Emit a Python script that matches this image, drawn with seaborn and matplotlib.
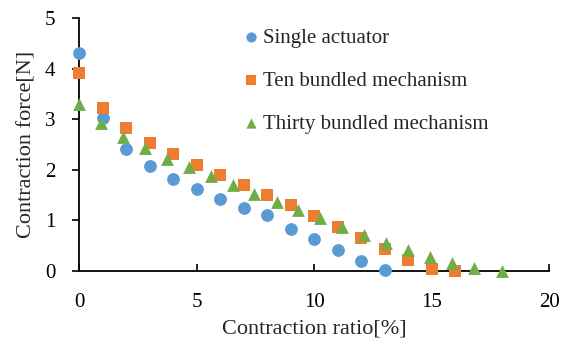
import matplotlib
matplotlib.use("Agg")
import matplotlib.pyplot as plt
import seaborn as sns
import pandas as pd

# contraction ratio [%] / contraction force [N]
single_x = [0, 1, 2, 3, 4, 5, 6, 7, 8, 9, 10, 11, 12, 13]
single_y = [4.32, 3.03, 2.41, 2.07, 1.81, 1.62, 1.43, 1.24, 1.10, 0.83, 0.64, 0.42, 0.20, 0.02]

ten_x = [0, 1, 2, 3, 4, 5, 6, 7, 8, 9, 10, 11, 12, 13, 14, 15, 16]
ten_y = [3.92, 3.23, 2.82, 2.53, 2.31, 2.09, 1.89, 1.70, 1.50, 1.30, 1.08, 0.87, 0.66, 0.44, 0.21, 0.03, 0.0]

thirty_x = [0, 0.93, 1.86, 2.8, 3.73, 4.66, 5.6, 6.53, 7.46, 8.4, 9.33, 10.26,
            11.2, 12.13, 13.06, 14.0, 14.93, 15.86, 16.8, 18.0]
thirty_y = [3.31, 2.93, 2.65, 2.43, 2.22, 2.05, 1.87, 1.70, 1.53, 1.37, 1.20, 1.04,
            0.87, 0.72, 0.55, 0.41, 0.27, 0.15, 0.05, 0.0]

labels = ['Single actuator', 'Ten bundled mechanism', 'Thirty bundled mechanism']
colors = ['#5B9BD5', '#ED7D31', '#70AD47']
markers = ['o', 's', '^']

sns.set_style("white")
plt.rcParams['font.family'] = ['Liberation Serif', 'DejaVu Serif']

fig = plt.figure(figsize=(5.65, 3.45), dpi=100)
ax = fig.add_axes([0.140, 0.2145, 0.832, 0.733])

series = [(single_x, single_y), (ten_x, ten_y), (thirty_x, thirty_y)]
for (xs, ys), lab, col, mk in zip(series, labels, colors, markers):
    df = pd.DataFrame({'x': xs, 'y': ys})
    sns.scatterplot(data=df, x='x', y='y', ax=ax, color=col, marker=mk,
                    s=85, linewidth=0, label=lab, clip_on=False, zorder=3)

ax.set_xlim(0, 20)
ax.set_ylim(0, 5)
ax.set_xticks([0, 5, 10, 15, 20])
ax.set_yticks([0, 1, 2, 3, 4, 5])
ax.tick_params(axis='x', direction='in', length=5, width=1.2, pad=16, labelsize=15, colors='black')
ax.tick_params(axis='y', direction='out', length=5, width=1.2, pad=12, labelsize=15, colors='black')
ax.tick_params(left=True, bottom=True)

for side in ['top', 'right']:
    ax.spines[side].set_visible(False)
for side in ['left', 'bottom']:
    ax.spines[side].set_color('black')
    ax.spines[side].set_linewidth(1.3)

ax.set_xlabel('Contraction ratio[%]', fontsize=16, labelpad=5)
ax.set_ylabel('Contraction force[N]', fontsize=16, labelpad=6)

ax.legend(loc='upper left', bbox_to_anchor=(245 / 565, 1 - 28 / 345),
          bbox_transform=fig.transFigure, frameon=False, fontsize=15,
          markerscale=0.8, handlelength=0.6, handletextpad=0.25,
          labelspacing=1.13, borderpad=0, borderaxespad=0)

fig.savefig('out.png', dpi=100)
